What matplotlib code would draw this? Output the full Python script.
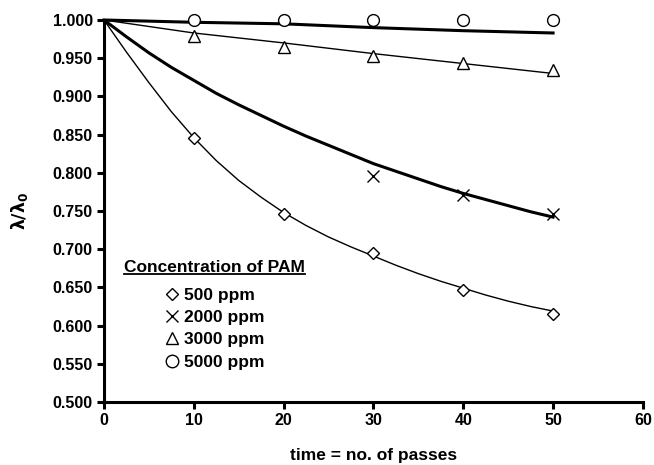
import matplotlib
matplotlib.use('Agg')
import matplotlib.pyplot as plt
from matplotlib.lines import Line2D

plt.rcParams['font.family'] = ['Liberation Sans', 'DejaVu Sans']
plt.rcParams['font.weight'] = 'bold'

# measured points
passes = [10, 20, 30, 40, 50]
ppm500 = [0.845, 0.746, 0.695, 0.647, 0.615]
ppm2000 = [None, None, 0.796, 0.771, 0.746]
ppm3000 = [0.979, 0.964, 0.953, 0.944, 0.934]
ppm5000 = [1.000, 1.000, 1.000, 1.000, 1.000]

# fitted curves
fit_x = [0, 2.5, 5, 7.5, 10, 12.5, 15, 17.5, 20, 22.5, 25,
         27.5, 30, 32.5, 35, 37.5, 40, 42.5, 45, 47.5, 50]
fit500 = [1.000, 0.958, 0.918, 0.880, 0.846, 0.816, 0.790, 0.768, 0.748, 0.731, 0.716,
          0.703, 0.691, 0.679, 0.668, 0.658, 0.649, 0.640, 0.632, 0.625, 0.619]
fit2000 = [1.000, 0.978, 0.957, 0.938, 0.921, 0.904, 0.889, 0.875, 0.861, 0.848, 0.836,
           0.824, 0.812, 0.802, 0.792, 0.782, 0.773, 0.765, 0.757, 0.749, 0.742]
fit_x2 = [0, 10, 20, 30, 40, 50]
fit3000 = [1.000, 0.983, 0.970, 0.956, 0.943, 0.930]
fit5000 = [1.000, 0.997, 0.995, 0.990, 0.986, 0.983]

labels = ['500 ppm', '2000 ppm', '3000 ppm', '5000 ppm']

fig = plt.figure(figsize=(6.54, 4.65), dpi=100)
ax = fig.add_axes([0.159, 0.1355, 0.824, 0.8215])

ax.plot(fit_x, fit500, color='black', lw=1.0)
ax.plot(fit_x, fit2000, color='black', lw=2.2)
ax.plot(fit_x2, fit3000, color='black', lw=1.0)
ax.plot(fit_x2, fit5000, color='black', lw=2.2, clip_on=False)

mk = dict(color='black', linestyle='none', markerfacecolor='white',
          markeredgecolor='black', markeredgewidth=1.0, clip_on=False, zorder=5)
ax.plot(passes, ppm500, marker='D', markersize=6.5, **mk)
x2 = [p for p, v in zip(passes, ppm2000) if v is not None]
y2 = [v for v in ppm2000 if v is not None]
ax.plot(x2, y2, marker='x', markersize=8, **mk)
ax.plot(passes, ppm3000, marker='^', markersize=8, **mk)
ax.plot(passes, ppm5000, marker='o', markersize=8.5, **mk)

ax.set_xlim(0, 60)
ax.set_ylim(0.5, 1.0)
ax.set_xticks(range(0, 61, 10))
ax.set_yticks([0.5 + 0.05 * i for i in range(11)])
ax.set_yticklabels(['%.3f' % (0.5 + 0.05 * i) for i in range(11)])
for s in ['top', 'right']:
    ax.spines[s].set_visible(False)
for s in ['left', 'bottom']:
    ax.spines[s].set_linewidth(2.2)
ax.tick_params(direction='out', length=5, width=2.2, labelsize=11.5, pad=3)
for t in ax.get_xticklabels() + ax.get_yticklabels():
    t.set_fontweight('bold')

ax.set_xlabel('time = no. of passes', fontsize=12.5, fontweight='bold', labelpad=14)
ax.set_ylabel(r'$\mathbf{\lambda/\lambda_0}$', fontsize=12.5, labelpad=16)

handles = [
    Line2D([], [], marker='D', markersize=6.5, linestyle='none', markerfacecolor='white', markeredgecolor='black'),
    Line2D([], [], marker='x', markersize=9, linestyle='none', color='black'),
    Line2D([], [], marker='^', markersize=8, linestyle='none', markerfacecolor='white', markeredgecolor='black'),
    Line2D([], [], marker='o', markersize=9, linestyle='none', markerfacecolor='white', markeredgecolor='black'),
]
leg = ax.legend(handles, labels, title='Concentration of PAM', frameon=False,
                loc='upper left', bbox_to_anchor=(0.025, 0.39), handlelength=0.8,
                handletextpad=0.3, labelspacing=0.42, borderaxespad=0,
                prop={'size': 12.5, 'weight': 'bold'},
                title_fontproperties={'size': 12.5, 'weight': 'bold'})
leg._legend_box.sep = 9

fig.canvas.draw()
bb = leg.get_title().get_window_extent()
fig.add_artist(Line2D([bb.x0, bb.x1], [bb.y0 + 1, bb.y0 + 1], color='black', lw=1.3, transform=None))

fig.savefig('out.png', dpi=100)
